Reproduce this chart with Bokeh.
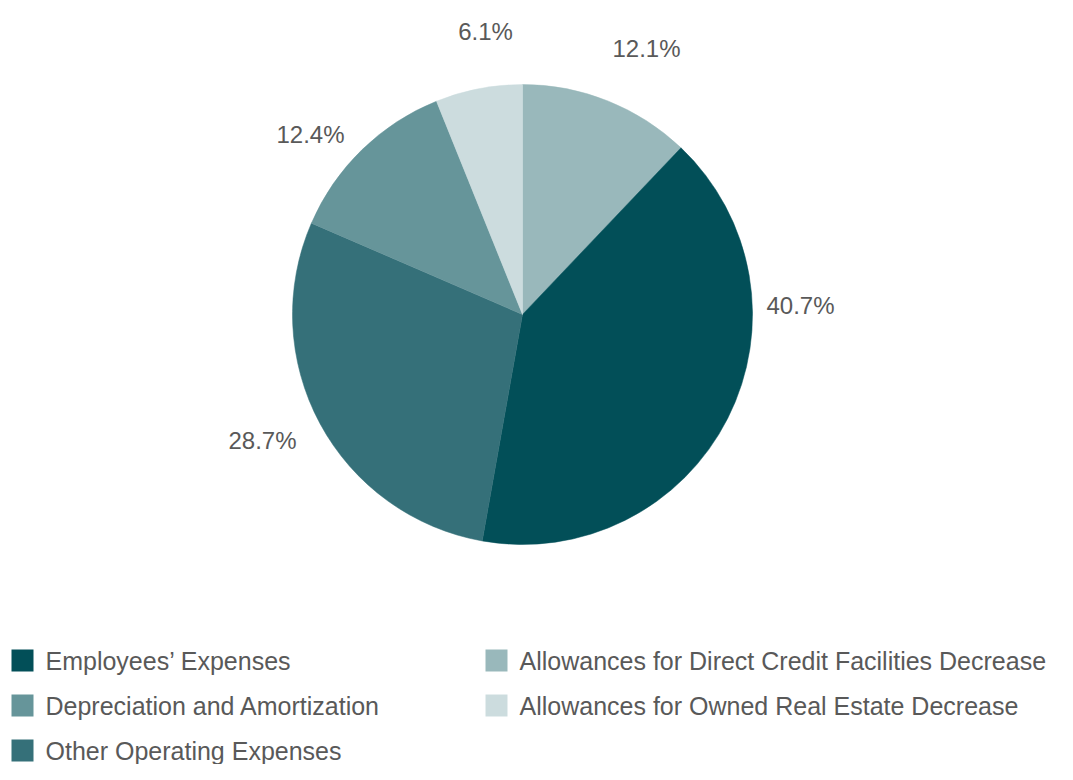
import math
from bokeh.plotting import figure
from bokeh.models import Range1d, ColumnDataSource
from bokeh.core.properties import value
from bokeh.embed import file_html
from bokeh.resources import INLINE

# ---- data (clockwise from 12 o'clock) ----
categories = [
    "Allowances for Direct Credit Facilities Decrease",
    "Employees\u2019 Expenses",
    "Other Operating Expenses",
    "Depreciation and Amortization",
    "Allowances for Owned Real Estate Decrease",
]
shares = [12.1, 40.7, 28.7, 12.4, 6.1]
colors = ["#99B8BB", "#024F58", "#357079", "#66959A", "#CCDCDE"]
pct_labels = ["12.1%", "40.7%", "28.7%", "12.4%", "6.1%"]

legend_order = [1, 3, 2, 0, 4]  # left column top-down, then right column

FONT = "'Liberation Sans Narrow', 'Arial Narrow', 'Liberation Sans', sans-serif"
TXT = "#595959"

W, H = 1057, 764
p = figure(width=W, height=H, output_backend="svg", toolbar_location=None,
           x_range=Range1d(0, W), y_range=Range1d(0, H), min_border=0)
p.axis.visible = False
p.grid.visible = False
p.outline_line_color = None
p.background_fill_color = "white"
p.border_fill_color = "white"

def Y(ypix):
    return H - ypix

cx, cy, r = 522, Y(314), 230
total = sum(shares)
starts, ends = [], []
acc = 0.0
for s in shares:
    a0 = math.pi / 2 - 2 * math.pi * acc / total
    acc += s
    a1 = math.pi / 2 - 2 * math.pi * acc / total
    starts.append(a0)
    ends.append(a1)

src = ColumnDataSource(dict(start=starts, end=ends, color=colors))
p.wedge(x=cx, y=cy, radius=r, start_angle="start", end_angle="end",
        direction="clock", fill_color="color", line_color="color",
        line_width=0.5, source=src)

# label placement (layout positions, pixels from top-left)
label_pos = [(646, 48), (800, 305), (262, 440), (310, 134), (485, 31)]
p.text(x=[lp[0] for lp in label_pos], y=[Y(lp[1]) for lp in label_pos],
       text=pct_labels, text_font=value(FONT), text_font_size="24px",
       text_color=TXT, text_align="center", text_baseline="middle")

# legend
legend_slots = [(11, 660), (11, 705), (11, 750), (485, 660), (485, 705)]
sq = 22
lx, ly, lc, lt = [], [], [], []
for slot, idx in zip(legend_slots, legend_order):
    lx.append(slot[0] + sq / 2)
    ly.append(Y(slot[1]))
    lc.append(colors[idx])
    lt.append(categories[idx])
p.rect(x=lx, y=ly, width=sq, height=sq, fill_color=lc, line_color=None)
p.text(x=[x + sq / 2 + 12 for x in lx], y=ly, text=lt, text_font=value(FONT),
       text_font_size="25px", text_color=TXT, text_align="left",
       text_baseline="middle")

open("out.html", "w").write(file_html(p, INLINE))
